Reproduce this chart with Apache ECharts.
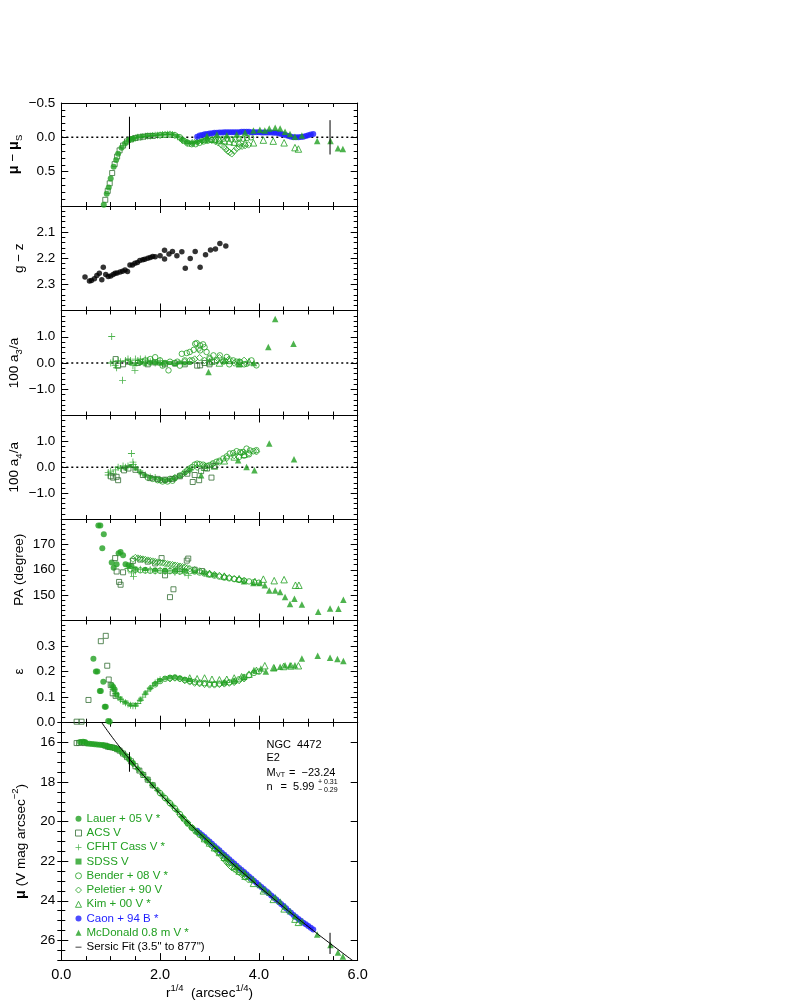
<!DOCTYPE html>
<html><head><meta charset="utf-8">
<script src="https://cdn.jsdelivr.net/npm/echarts/dist/echarts.min.js"></script>
<style>html,body{margin:0;padding:0;background:#fff}#c{width:795px;height:1004px}</style>
</head><body><div id="c"></div>
<script>
// ---------------- DATA ----------------
const xTickLabels = [0, 2, 4, 6];
// Panel 1 : mu - mu_S residuals
const lauerRes = [[0.86,0.98],[0.92,0.82],[0.96,0.73],[1.00,0.60],[1.06,0.43],[1.11,0.33],[1.15,0.24],[1.22,0.15],[1.29,0.09],[1.37,0.04],[1.45,0.02]];
const acsRes = [[0.89,0.91],[0.94,0.78],[0.98,0.67],[1.03,0.52],[1.08,0.39],[1.13,0.28],[1.18,0.19],[1.25,0.12],[1.33,0.06],[1.41,0.03],[1.5,0.01],[1.58,0.0],[1.66,-0.01],[1.75,-0.02],[1.85,-0.02]];
const cfhtRes = [[1.35,0.05],[1.4,0.03],[1.45,0.02],[1.5,0.01],[1.55,0.0],[1.6,-0.005],[1.65,-0.01],[1.7,-0.015],[1.75,-0.02],[1.8,-0.02],[1.85,-0.025],[1.9,-0.03],[1.95,-0.03],[2.0,-0.035],[2.05,-0.04],[2.1,-0.04],[2.15,-0.045],[2.2,-0.045],[2.25,-0.04],[2.3,-0.03],[2.35,-0.01],[2.4,0.01],[2.45,0.04],[2.5,0.06],[2.55,0.08],[2.6,0.09],[2.65,0.085],[2.7,0.075],[2.75,0.06],[2.8,0.05]];
const sdssRes = [[1.45,0.01],[1.55,-0.01],[1.65,-0.02],[1.75,-0.03],[1.85,-0.035],[1.95,-0.04],[2.05,-0.045],[2.15,-0.05],[2.25,-0.045],[2.35,-0.02],[2.45,0.03],[2.55,0.07],[2.65,0.08],[2.75,0.07],[2.85,0.05],[2.95,0.03]];
const benderRes = [[2.0,-0.03],[2.1,-0.035],[2.2,-0.04],[2.3,-0.03],[2.4,0.0],[2.48,0.05],[2.56,0.09],[2.64,0.1],[2.72,0.1],[2.8,0.08],[2.88,0.06],[2.96,0.05],[3.04,0.04],[3.12,0.03],[3.2,0.03],[3.28,0.02],[3.36,0.02],[3.44,0.03],[3.52,0.03],[3.6,0.02],[3.68,0.02],[3.76,0.01],[3.84,0.0]];
const peletierRes = [[2.45,0.04],[2.55,0.07],[2.65,0.08],[2.75,0.07],[2.85,0.05],[2.95,0.03],[3.05,0.04],[3.12,0.06],[3.18,0.08],[3.24,0.11],[3.29,0.14],[3.33,0.17],[3.37,0.2],[3.41,0.22],[3.45,0.24],[3.5,0.2],[3.55,0.16],[3.6,0.14],[3.66,0.13],[3.72,0.12],[3.79,0.11]];
const kimRes = [[2.9,0.03],[3.0,0.02],[3.1,0.03],[3.2,0.04],[3.3,0.05],[3.4,0.06],[3.5,0.07],[3.6,0.08],[3.72,0.08],[3.89,0.08],[4.09,0.04],[4.29,0.055],[4.51,0.08],[4.73,0.15],[4.80,0.17]];
const caonRes = [[2.75,-0.01],[2.8,-0.025],[2.85,-0.035],[2.9,-0.045],[2.95,-0.05],[3.0,-0.055],[3.05,-0.06],[3.1,-0.065],[3.15,-0.065],[3.2,-0.07],[3.25,-0.07],[3.3,-0.075],[3.35,-0.075],[3.4,-0.075],[3.45,-0.075],[3.5,-0.075],[3.55,-0.075],[3.6,-0.075],[3.65,-0.08],[3.7,-0.08],[3.75,-0.08],[3.8,-0.08],[3.85,-0.075],[3.9,-0.075],[3.95,-0.075],[4.0,-0.075],[4.05,-0.07],[4.1,-0.07],[4.15,-0.07],[4.2,-0.07],[4.25,-0.07],[4.3,-0.065],[4.35,-0.065],[4.4,-0.06],[4.45,-0.05],[4.5,-0.04],[4.55,-0.03],[4.6,-0.02],[4.65,-0.01],[4.7,0.0],[4.75,0.0],[4.8,0.0],[4.85,-0.005],[4.9,-0.01],[4.95,-0.02],[5.0,-0.03],[5.05,-0.04],[5.1,-0.05]];
const mcdRes = [[2.95,-0.02],[3.15,-0.04],[3.35,-0.03],[3.55,-0.04],[3.72,-0.07],[3.89,-0.1],[4.02,-0.11],[4.12,-0.1],[4.21,-0.13],[4.33,-0.14],[4.43,-0.13],[4.53,-0.08],[4.63,-0.05],[4.73,-0.01],[4.87,-0.025],[5.18,0.055],[5.45,0.055],[5.6,0.16],[5.7,0.17]];
// Panel 2 : g - z colour
const gzData = [[0.48,2.272],[0.57,2.287],[0.61,2.285],[0.67,2.278],[0.72,2.266],[0.77,2.257],[0.82,2.282],[0.85,2.234],[0.90,2.262],[0.95,2.270],[1.00,2.268],[1.05,2.262],[1.09,2.257],[1.13,2.256],[1.19,2.253],[1.24,2.250],[1.29,2.245],[1.34,2.251],[1.39,2.226],[1.44,2.226],[1.49,2.219],[1.54,2.216],[1.59,2.209],[1.65,2.206],[1.69,2.204],[1.75,2.200],[1.80,2.197],[1.85,2.193],[1.90,2.194],[2.00,2.190],[2.09,2.169],[2.09,2.203],[2.18,2.184],[2.25,2.174],[2.34,2.190],[2.44,2.175],[2.51,2.238],[2.61,2.201],[2.71,2.174],[2.81,2.234],[2.92,2.187],[3.02,2.168],[3.12,2.165],[3.21,2.144],[3.33,2.153]];
// Panel 3 : 100 a3/a
const cfhtA3 = [[1.02,1.01],[1.0,0.0],[1.09,-0.09],[1.12,-0.18],[1.24,-0.66],[1.49,-0.28],[1.05,0.05],[1.15,0.1],[1.2,0.05],[1.3,0.1],[1.35,0.15],[1.4,0.1],[1.45,-0.1],[1.5,0.15],[1.55,0.1],[1.6,0.15],[1.65,0.05],[1.7,0.15],[1.75,0.1],[1.8,0.05],[1.85,0.1],[1.9,0.0],[1.95,0.05],[2.0,0.1],[2.05,-0.05]];
const acsA3 = [[1.1,0.15],[1.15,-0.1],[1.25,-0.05],[1.35,0.05],[1.55,0.0],[1.75,-0.05],[1.9,0.02],[2.1,-0.05],[2.3,-0.02],[2.5,-0.05],[2.75,-0.1],[2.81,-0.09],[2.9,0.0],[3.0,-0.05],[3.05,0.05]];
const sdssA3 = [[1.4,0.0],[1.5,-0.05],[1.6,0.0],[1.7,-0.05],[1.8,-0.02],[1.9,0.0],[2.0,-0.03],[2.1,0.02],[2.2,0.0],[2.3,-0.05],[2.4,0.02],[2.5,-0.02],[2.6,0.0]];
const benderA3 = [[1.6,0.05],[1.7,0.1],[1.8,0.15],[1.9,0.22],[2.0,0.1],[2.05,-0.1],[2.1,0.0],[2.17,-0.28],[2.2,0.05],[2.3,0.0],[2.35,0.05],[2.4,-0.1],[2.44,0.35],[2.5,0.1],[2.54,0.38],[2.6,0.42],[2.65,0.1],[2.68,0.5],[2.71,0.73],[2.74,0.76],[2.78,0.55],[2.81,0.67],[2.81,0.48],[2.87,0.71],[2.9,0.6],[2.94,0.42],[3.0,0.2],[3.08,0.29],[3.15,0.1],[3.21,0.29],[3.28,0.05],[3.35,0.23],[3.4,-0.05],[3.48,0.1],[3.55,0.05],[3.62,0.04],[3.7,-0.05],[3.75,-0.03],[3.85,0.1],[3.95,-0.09]];
const peletierA3 = [[2.5,0.05],[2.6,0.1],[2.7,0.15],[2.8,0.2],[2.9,0.1],[3.0,0.15],[3.1,0.05],[3.2,0.2],[3.3,0.1],[3.4,0.15],[3.5,0.0],[3.6,0.05],[3.7,0.1]];
const kimA3 = [[3.0,0.05],[3.2,0.0],[3.4,0.1],[3.6,0.0],[3.8,0.05]];
const mcdA3 = [[2.98,-0.34],[3.3,0.1],[3.6,-0.05],[3.9,0.0],[4.19,0.61],[4.33,1.68],[4.70,0.73]];
// Panel 4 : 100 a4/a
const cfhtA4 = [[0.95,-0.3],[0.95,-0.2],[1.0,-0.15],[1.05,-0.25],[1.1,-0.1],[1.15,0.0],[1.2,-0.05],[1.25,0.05],[1.3,0.0],[1.35,0.05],[1.42,0.53],[1.45,0.2],[1.46,0.1],[1.5,0.0],[1.55,-0.1],[1.6,-0.2],[1.65,-0.25],[1.7,-0.3],[1.8,-0.38],[1.9,-0.4]];
const acsA4 = [[1.0,-0.35],[1.05,-0.4],[1.12,-0.37],[1.15,-0.5],[1.27,-0.12],[1.36,-0.05],[1.5,-0.1],[1.65,-0.3],[1.8,-0.42],[1.95,-0.45],[2.1,-0.48],[2.25,-0.45],[2.4,-0.35],[2.55,-0.25],[2.66,-0.57],[2.7,-0.3],[2.79,-0.5],[2.83,-0.15],[2.95,-0.05],[3.04,-0.4],[3.1,0.05]];
const sdssA4 = [[1.3,-0.05],[1.4,0.05],[1.5,-0.05],[1.6,-0.2],[1.7,-0.32],[1.8,-0.4],[1.9,-0.43],[2.0,-0.46],[2.1,-0.5],[2.2,-0.48],[2.3,-0.43],[2.4,-0.35],[2.5,-0.22],[2.6,-0.1]];
const benderA4 = [[1.75,-0.4],[1.85,-0.45],[1.95,-0.5],[2.0,-0.5],[2.05,-0.55],[2.1,-0.5],[2.15,-0.55],[2.2,-0.45],[2.25,-0.52],[2.3,-0.42],[2.4,-0.32],[2.5,-0.2],[2.55,-0.12],[2.6,-0.05],[2.65,0.01],[2.7,0.1],[2.75,0.14],[2.8,0.12],[2.87,0.1],[2.95,0.05],[3.0,0.08],[3.07,0.15],[3.14,0.21],[3.2,0.25],[3.28,0.34],[3.35,0.42],[3.41,0.53],[3.48,0.55],[3.55,0.62],[3.6,0.4],[3.62,0.58],[3.68,0.59],[3.7,0.45],[3.75,0.72],[3.8,0.5],[3.82,0.65],[3.89,0.62],[3.95,0.66]];
const peletierA4 = [[2.3,-0.4],[2.45,-0.28],[2.6,-0.12],[2.75,0.0],[2.9,0.05],[3.05,0.1],[3.2,0.2],[3.35,0.35],[3.5,0.45],[3.65,0.55],[3.8,0.55],[3.95,0.6]];
const kimA4 = [[2.9,0.0],[3.1,0.05],[3.3,0.25],[3.5,0.4],[3.7,0.5]];
const mcdA4 = [[2.83,-0.31],[3.58,0.27],[3.75,0.01],[3.91,-0.12],[4.21,0.92],[4.71,0.31]];
// Panel 5 : position angle
const lauerPA = [[0.75,177.4],[0.79,177.4],[0.86,174.0],[0.83,168.5],[1.02,162.9],[1.06,160.8],[1.12,162.2],[1.16,166.5],[1.2,167.0],[1.25,165.7],[1.3,162.2],[1.36,161.8],[1.42,161.5]];
const acsPA = [[1.09,164.6],[1.12,159.3],[1.17,155.2],[1.2,154.1],[1.25,159.0],[1.45,163.5],[1.6,164.0],[1.75,163.2],[1.9,162.5],[2.03,164.6],[2.1,157.8],[2.2,149.2],[2.27,152.3],[2.4,160.5],[2.54,163.6],[2.57,164.4],[2.7,160.0],[2.85,159.5]];
const cfhtPA = [[1.35,160.5],[1.42,158.8],[1.46,157.4],[1.5,159.5],[1.6,160.2],[1.7,159.8],[1.8,160.0],[1.9,159.5],[2.0,159.8],[2.1,159.3],[2.2,159.6],[2.3,159.0],[2.4,159.3],[2.5,158.8],[2.57,157.8]];
const sdssPA = [[1.5,160.5],[1.7,160.3],[1.9,160.0],[2.1,160.0],[2.3,159.8],[2.5,159.6],[2.7,159.2],[2.9,158.6],[3.1,158.0]];
const benderPA = [[1.4,160.3],[1.5,160.0],[1.6,159.8],[1.7,159.7],[1.8,159.6],[1.9,159.6],[2.0,159.6],[2.1,159.5],[2.2,159.5],[2.3,159.4],[2.4,159.3],[2.5,159.3],[2.6,159.4],[2.7,159.3],[2.8,158.9],[2.9,158.5],[3.0,158.1],[3.1,157.7],[3.2,157.3],[3.3,156.9],[3.4,156.6],[3.5,156.3],[3.6,156.0],[3.7,155.7],[3.8,155.4],[3.9,155.1],[4.0,154.9]];
const peletierPA = [[1.45,164.2],[1.5,164.8],[1.55,164.6],[1.6,164.4],[1.65,164.2],[1.7,164.0],[1.75,163.8],[1.8,163.6],[1.85,163.4],[1.9,163.2],[1.95,163.0],[2.0,162.9],[2.05,162.7],[2.1,162.5],[2.15,162.3],[2.2,162.1],[2.25,162.0],[2.3,161.8],[2.35,161.6],[2.4,161.4],[2.45,161.2],[2.5,161.0],[2.55,160.7],[2.6,160.4],[2.7,160.0],[2.8,159.5],[2.9,159.0],[3.0,158.5],[3.1,158.1],[3.2,157.7],[3.3,157.3],[3.4,156.9],[3.5,156.5],[3.6,156.1],[3.7,155.7]];
const kimPA = [[3.0,158.5],[3.3,157.5],[3.6,156.5],[3.92,155.4],[4.09,156.3],[4.31,155.7],[4.51,156.1],[4.74,153.9],[4.81,153.9]];
const mcdPA = [[3.7,155.5],[3.89,154.8],[4.02,154.8],[4.12,153.9],[4.21,151.8],[4.33,151.8],[4.43,151.2],[4.53,149.3],[4.63,146.5],[4.72,148.6],[4.87,146.3],[5.2,143.4],[5.44,144.7],[5.61,144.6],[5.71,148.2]];
// Panel 6 : ellipticity
const lauerE = [[0.65,0.25],[0.70,0.2],[0.73,0.2],[0.78,0.124],[0.80,0.124],[0.85,0.16],[0.88,0.062],[0.90,0.062],[0.95,0.007],[0.98,0.004],[1.02,0.147],[1.05,0.14],[1.08,0.13],[1.12,0.11]];
const acsE = [[0.31,0.004],[0.41,0.004],[0.55,0.089],[0.80,0.319],[0.90,0.34],[0.93,0.223],[0.96,0.169],[1.0,0.147],[1.04,0.115],[1.1,0.105]];
const cfhtE = [[1.05,0.13],[1.1,0.115],[1.15,0.1],[1.2,0.09],[1.25,0.083],[1.3,0.078],[1.35,0.073],[1.4,0.068],[1.45,0.066],[1.5,0.066],[1.55,0.075],[1.6,0.088],[1.65,0.1],[1.7,0.112],[1.75,0.124],[1.8,0.135],[1.85,0.145],[1.9,0.155],[1.95,0.162],[2.0,0.168]];
const sdssE = [[1.2,0.095],[1.3,0.08],[1.4,0.07],[1.5,0.07],[1.6,0.09],[1.7,0.115],[1.8,0.135],[1.9,0.152],[2.0,0.166],[2.1,0.174],[2.2,0.178],[2.3,0.178],[2.4,0.175],[2.5,0.17],[2.6,0.167]];
const benderE = [[1.9,0.15],[2.0,0.163],[2.1,0.172],[2.2,0.176],[2.3,0.177],[2.4,0.173],[2.5,0.168],[2.6,0.164],[2.7,0.16],[2.8,0.157],[2.9,0.155],[3.0,0.153],[3.1,0.152],[3.2,0.153],[3.3,0.155],[3.4,0.158],[3.5,0.162],[3.6,0.17],[3.7,0.178],[3.8,0.186],[3.9,0.195],[4.0,0.2]];
const peletierE = [[2.2,0.172],[2.3,0.175],[2.4,0.172],[2.5,0.165],[2.6,0.16],[2.7,0.155],[2.8,0.153],[2.9,0.15],[3.0,0.148],[3.1,0.148],[3.2,0.15],[3.3,0.152],[3.4,0.155],[3.5,0.158],[3.6,0.165],[3.7,0.172]];
const kimE = [[2.6,0.175],[2.75,0.172],[2.9,0.175],[3.05,0.17],[3.2,0.168],[3.35,0.17],[3.5,0.175],[3.65,0.18],[3.8,0.19],[3.95,0.205],[4.12,0.223],[4.3,0.215],[4.5,0.22],[4.65,0.222],[4.8,0.223]];
const mcdE = [[3.3,0.16],[3.5,0.165],[3.7,0.18],[3.9,0.206],[4.04,0.212],[4.14,0.2],[4.31,0.215],[4.43,0.219],[4.53,0.225],[4.63,0.225],[4.73,0.225],[4.87,0.251],[5.19,0.262],[5.44,0.254],[5.59,0.249],[5.71,0.241]];
// Panel 7 : surface brightness profile
const lauerMu = [[0.38,15.97],[0.44,15.96],[0.48,15.97],[0.52,16.05],[0.57,16.07],[0.62,16.08],[0.67,16.09],[0.72,16.10],[0.77,16.12],[0.82,16.13],[0.86,16.14],[0.92,16.18],[0.96,16.22],[1.00,16.23],[1.06,16.26],[1.11,16.32],[1.15,16.36],[1.22,16.49],[1.29,16.65],[1.37,16.84],[1.45,17.04]];
const acsMu = [[0.31,16.03],[0.36,16.02],[0.42,16.0],[0.47,16.03],[0.89,16.16],[0.94,16.21],[0.98,16.23],[1.03,16.25],[1.08,16.28],[1.13,16.34],[1.18,16.41],[1.25,16.56],[1.33,16.74],[1.41,16.95],[1.5,17.2],[1.58,17.42],[1.66,17.64],[1.75,17.88],[1.85,18.16]];
const cfhtMu = [[1.35,16.79],[1.4,16.93],[1.45,17.06],[1.5,17.2],[1.55,17.34],[1.6,17.48],[1.65,17.61],[1.7,17.75],[1.75,17.88],[1.8,18.02],[1.85,18.16],[1.9,18.29],[1.95,18.42],[2.0,18.55],[2.05,18.68],[2.1,18.81],[2.15,18.93],[2.2,19.06],[2.25,19.2],[2.3,19.33],[2.35,19.48],[2.4,19.63],[2.45,19.78],[2.5,19.93],[2.55,20.07],[2.6,20.2],[2.65,20.32],[2.7,20.43],[2.75,20.53],[2.8,20.64]];
const sdssMu = [[1.45,17.05],[1.55,17.33],[1.65,17.6],[1.75,17.87],[1.85,18.15],[1.95,18.41],[2.05,18.67],[2.15,18.93],[2.25,19.19],[2.35,19.47],[2.45,19.77],[2.55,20.06],[2.65,20.31],[2.75,20.54],[2.85,20.76],[2.95,20.98]];
const benderMu = [[2.0,18.56],[2.1,18.81],[2.2,19.07],[2.3,19.33],[2.4,19.62],[2.48,19.87],[2.56,20.1],[2.64,20.31],[2.72,20.5],[2.8,20.67],[2.88,20.84],[2.96,21.02],[3.04,21.2],[3.12,21.37],[3.2,21.55],[3.28,21.72],[3.36,21.9],[3.44,22.09],[3.52,22.27],[3.6,22.44],[3.68,22.61],[3.76,22.77],[3.84,22.93]];
const peletierMu = [[2.45,19.78],[2.55,20.06],[2.65,20.31],[2.75,20.54],[2.85,20.76],[2.95,20.98],[3.05,21.22],[3.12,21.4],[3.18,21.56],[3.24,21.72],[3.29,21.87],[3.33,21.99],[3.37,22.11],[3.41,22.22],[3.45,22.32],[3.5,22.4],[3.55,22.47],[3.6,22.56],[3.66,22.68],[3.72,22.8],[3.79,22.94]];
const kimMu = [[2.9,20.86],[3.0,21.08],[3.1,21.32],[3.2,21.56],[3.3,21.8],[3.4,22.03],[3.5,22.27],[3.6,22.5],[3.72,22.76],[3.89,23.12],[4.09,23.5],[4.29,23.93],[4.51,24.41],[4.73,24.93],[4.80,25.09]];
const caonMu = [[2.75,20.46],[2.8,20.57],[2.85,20.68],[2.9,20.78],[2.95,20.9],[3.0,21.01],[3.05,21.12],[3.1,21.23],[3.15,21.34],[3.2,21.45],[3.25,21.57],[3.3,21.67],[3.35,21.79],[3.4,21.9],[3.45,22.01],[3.5,22.12],[3.55,22.23],[3.6,22.34],[3.65,22.44],[3.7,22.55],[3.75,22.66],[3.8,22.77],[3.85,22.88],[3.9,22.99],[3.95,23.09],[4.0,23.2],[4.05,23.31],[4.1,23.41],[4.15,23.52],[4.2,23.62],[4.25,23.73],[4.3,23.83],[4.35,23.94],[4.4,24.05],[4.45,24.16],[4.5,24.27],[4.55,24.38],[4.6,24.5],[4.65,24.61],[4.7,24.72],[4.75,24.82],[4.8,24.92],[4.85,25.01],[4.9,25.11],[4.95,25.19],[5.0,25.28],[5.05,25.37],[5.1,25.45]];
const mcdMu = [[2.95,20.93],[3.15,21.37],[3.35,21.83],[3.55,22.27],[3.72,22.61],[3.89,22.94],[4.02,23.21],[4.12,23.43],[4.21,23.58],[4.33,23.82],[4.43,24.04],[4.53,24.29],[4.63,24.53],[4.73,24.77],[4.87,25.03],[5.18,25.71],[5.45,26.24],[5.6,26.62],[5.7,26.82]];
// Sersic fit line
const fitMu = [[0.82,15.0],[1.0,15.63],[1.2,16.28],[1.4,16.9],[1.6,17.48],[1.8,18.04],[2.0,18.59],[2.2,19.11],[2.4,19.62],[2.6,20.11],[2.8,20.59],[3.0,21.06],[3.2,21.52],[3.4,21.97],[3.6,22.42],[3.8,22.85],[4.0,23.28],[4.2,23.69],[4.4,24.11],[4.6,24.52],[4.8,24.92],[5.0,25.31],[5.2,25.7],[5.4,26.08],[5.6,26.46],[5.8,26.84],[5.9,27.02]];
// fit-range markers (3.5" and 877")
const fitRangeX = [1.38, 5.44];
const resMarkY = [[-0.30, 0.17], [-0.25, 0.25]];
const muMarkY = [[16.49, 17.48], [25.62, 26.69]];

// ---------------- STYLE / LAYOUT ----------------
const F = '"Liberation Sans", Arial, Helvetica, sans-serif';
const G = '#22a022', GD = '#336e33', BL = '#1f1fff';
const PLUS = 'path://M-0.12,-1L0.12,-1L0.12,-0.12L1,-0.12L1,0.12L0.12,0.12L0.12,1L-0.12,1L-0.12,0.12L-1,0.12L-1,-0.12L-0.12,-0.12Z';
const hollow = c => ({color:'rgba(0,0,0,0)', borderColor:c, borderWidth:1});
const S = {
  lauer:{name:'Lauer + 05 V *', symbol:'circle', size:6, item:{color:G}},
  acs:{name:'ACS V', symbol:'rect', size:5, item:hollow(GD)},
  cfht:{name:'CFHT Cass V *', symbol:PLUS, size:7, item:{color:G}},
  sdss:{name:'SDSS V', symbol:'rect', size:4, item:{color:G}},
  bender:{name:'Bender + 08 V *', symbol:'circle', size:5.5, item:hollow(G)},
  peletier:{name:'Peletier + 90 V', symbol:'diamond', size:6.5, item:hollow(G)},
  kim:{name:'Kim + 00 V *', symbol:'triangle', size:6.5, item:hollow(G)},
  caon:{name:'Caon + 94 B *', symbol:'circle', size:6, item:{color:BL}},
  mcd:{name:'McDonald 0.8 m V *', symbol:'triangle', size:6.5, item:{color:G}}
};
const bounds = [103, 206, 310.5, 415.5, 519, 620.5, 722.7, 966.7];
const LEFT = 61.3, WIDTH = 296.4;
const P = [
  {min:-0.5,max:1.0,inv:true,iv:0.5,ms:5,labels:[-0.5,0,0.5],d:1,gap:27.5,name:'{b|μ} − {b|μ}{sub|S}'},
  {min:2.0,max:2.4,inv:true,iv:0.1,ms:5,labels:[2.1,2.2,2.3],d:1,gap:32,name:'g − z'},
  {min:-2,max:2,iv:1,ms:5,labels:[-1,0,1],d:1,gap:28,name:'100 a{sub|3}/a'},
  {min:-2,max:2,iv:1,ms:5,labels:[-1,0,1],d:1,gap:28,name:'100 a{sub|4}/a'},
  {min:140,max:180,iv:10,ms:5,labels:[150,160,170],d:0,gap:30,name:'PA (degree)'},
  {min:0,max:0.4,iv:0.1,ms:5,labels:[0,0.1,0.2,0.3],d:1,gap:32,name:'ε'},
  {min:15,max:27,inv:true,iv:0.5,ms:0,custom:[16,18,20,22,24,26],labels:[16,18,20,22,24,26],d:0,gap:29,name:'{b|μ} (V mag arcsec{sup|−2})'}
];
const fmt = (v,d) => (v < -1e-9 ? '−' : '') + Math.abs(v).toFixed(d);
const rich = {
  b:{fontWeight:'bold', fontSize:14.5, fontFamily:F, lineHeight:22},
  sub:{fontSize:9.5, fontFamily:F, verticalAlign:'bottom', lineHeight:10},
  sup:{fontSize:9.5, fontFamily:F, verticalAlign:'top', lineHeight:10}
};
const grids = [], xAxes = [], yAxes = [];
P.forEach((p, i) => {
  grids.push({left:LEFT, width:WIDTH, top:bounds[i], height:bounds[i+1]-bounds[i]});
  ['bottom','top'].forEach((pos, k) => {
    xAxes.push({gridIndex:i, type:'value', position:pos, min:0, max:6, interval:2,
      axisLine:{onZero:false, lineStyle:{color:'#000', width:1}},
      axisTick:{inside:true, length:7, lineStyle:{color:'#000'}},
      minorTick:{show:true, splitNumber:4, length:4, lineStyle:{color:'#000'}},
      splitLine:{show:false},
      axisLabel:{show:(i===6 && k===0), color:'#000', fontFamily:F, fontSize:14.5, margin:7,
        formatter:v => xTickLabels.some(t => Math.abs(t-v) < 1e-9) ? v.toFixed(1) : ''},
      name:(i===6 && k===0) ? 'r{sup|1/4}  (arcsec{sup|1/4})' : '', nameLocation:'middle', nameGap:22,
      nameTextStyle:{color:'#000', fontFamily:F, fontSize:13.5, lineHeight:20, rich:rich}});
  });
  ['left','right'].forEach((pos, k) => {
    const ax = {gridIndex:i, type:'value', position:pos, min:p.min, max:p.max, inverse:!!p.inv, interval:p.iv,
      axisLine:{onZero:false, lineStyle:{color:'#000', width:1}},
      axisTick:{inside:true, length:7, lineStyle:{color:'#000'}},
      minorTick:{show:p.ms>0, splitNumber:p.ms||1, length:4, lineStyle:{color:'#000'}},
      splitLine:{show:false},
      axisLabel:{show:k===0, color:'#000', fontFamily:F, fontSize:13.5, margin:6,
        formatter:v => p.labels.some(t => Math.abs(t-v) < 1e-9) ? fmt(v, p.d) : ''},
      name:k===0 ? p.name : '', nameLocation:'middle', nameRotate:90, nameGap:p.gap,
      nameTextStyle:{color:'#000', fontFamily:F, fontSize:13.5, lineHeight:20, rich:rich}};
    if (p.custom) { ax.axisTick.customValues = p.custom; ax.axisLabel.customValues = p.custom; }
    yAxes.push(ax);
  });
});
// extra minor-tick axes for the profile panel (every 0.5 mag)
['left','right'].forEach(pos => {
  yAxes.push({gridIndex:6, type:'value', position:pos, min:15, max:27, inverse:true, interval:0.5,
    axisLine:{show:false}, axisTick:{inside:true, length:4, lineStyle:{color:'#000'}},
    axisLabel:{show:false}, splitLine:{show:false}});
});

const series = [];
const yIdx = i => 2*i;
function zeroLine(i){
  series.push({type:'line', xAxisIndex:2*i, yAxisIndex:yIdx(i), data:[[0,0],[6,0]], symbol:'none', silent:true,
    lineStyle:{color:'#000', width:1.5, type:[2,3]}, z:1});
}
function sc(key, i, data){
  const s = S[key];
  series.push({type:'scatter', name:s.name, xAxisIndex:2*i, yAxisIndex:yIdx(i), data:data,
    symbol:s.symbol, symbolSize:s.size, itemStyle:s.item, silent:true, z:2});
}
function seg(i, x, ys){
  series.push({type:'line', xAxisIndex:2*i, yAxisIndex:yIdx(i), data:[[x,ys[0]],[x,ys[1]]], symbol:'none', silent:true,
    lineStyle:{color:'#000', width:1}, z:4});
}
// panel 1
zeroLine(0);
sc('acs',0,acsRes); sc('lauer',0,lauerRes); sc('cfht',0,cfhtRes); sc('sdss',0,sdssRes);
sc('bender',0,benderRes); sc('peletier',0,peletierRes); sc('kim',0,kimRes); sc('caon',0,caonRes); sc('mcd',0,mcdRes);
fitRangeX.forEach((x,k) => seg(0, x, resMarkY[k]));
// panel 2
series.push({type:'scatter', name:'g-z', xAxisIndex:2, yAxisIndex:2, data:gzData, symbol:'circle', symbolSize:5.5,
  itemStyle:{color:'#000'}, silent:true});
// panel 3
zeroLine(2);
sc('acs',2,acsA3); sc('cfht',2,cfhtA3); sc('sdss',2,sdssA3); sc('bender',2,benderA3);
sc('peletier',2,peletierA3); sc('kim',2,kimA3); sc('mcd',2,mcdA3);
// panel 4
zeroLine(3);
sc('cfht',3,cfhtA4); sc('sdss',3,sdssA4); sc('bender',3,benderA4); sc('peletier',3,peletierA4);
sc('kim',3,kimA4); sc('acs',3,acsA4); sc('mcd',3,mcdA4);
// panel 5
sc('lauer',4,lauerPA); sc('acs',4,acsPA); sc('cfht',4,cfhtPA); sc('sdss',4,sdssPA); sc('bender',4,benderPA);
sc('peletier',4,peletierPA); sc('kim',4,kimPA); sc('mcd',4,mcdPA);
// panel 6
sc('acs',5,acsE); sc('lauer',5,lauerE); sc('cfht',5,cfhtE); sc('sdss',5,sdssE); sc('bender',5,benderE);
sc('peletier',5,peletierE); sc('kim',5,kimE); sc('mcd',5,mcdE);
// panel 7
sc('caon',6,caonMu); sc('acs',6,acsMu); sc('lauer',6,lauerMu); sc('cfht',6,cfhtMu); sc('sdss',6,sdssMu);
sc('bender',6,benderMu); sc('peletier',6,peletierMu); sc('kim',6,kimMu); sc('mcd',6,mcdMu);
series.push({type:'line', name:'Sersic Fit (3.5" to 877")', xAxisIndex:12, yAxisIndex:12, data:fitMu, symbol:'none', smooth:true,
  silent:true, lineStyle:{color:'#000', width:1}, itemStyle:{color:'#000'}, z:3});
fitRangeX.forEach((x,k) => seg(6, x, muMarkY[k]));

const DASH = 'path://M0,44L100,44L100,56L0,56Z M0,0L0.01,0L0,0.01Z M100,100L99.99,100L100,99.99Z';
const legendNames = Object.keys(S).map(k => ({name:S[k].name, textStyle:{color: k==='caon' ? BL : G}}));
legendNames.push({name:'Sersic Fit (3.5" to 877")', icon:DASH, textStyle:{color:'#000'}});

const option = {
  animation:false, backgroundColor:'#fff',
  grid:grids, xAxis:xAxes, yAxis:yAxes, series:series,
  legend:{orient:'vertical', left:75, top:812.8, padding:0, itemWidth:6, itemHeight:6, itemGap:2.25, selectedMode:false,
    itemStyle:{borderWidth:1},
    textStyle:{fontFamily:F, fontSize:11.5, lineHeight:12}, data:legendNames},
  graphic:[
    {type:'text', left:266.5, top:739, style:{text:'NGC  4472', font:'11px '+F, fill:'#000'}},
    {type:'text', left:266.5, top:752.5, style:{text:'E2', font:'11px '+F, fill:'#000'}},
    {type:'text', left:266.5, top:767, style:{text:'M', font:'11px '+F, fill:'#000'}},
    {type:'text', left:276, top:772, style:{text:'VT', font:'7px '+F, fill:'#000'}},
    {type:'text', left:289, top:767, style:{text:'=  −23.24', font:'11px '+F, fill:'#000'}},
    {type:'text', left:266.5, top:781, style:{text:'n', font:'11px '+F, fill:'#000'}},
    {type:'text', left:280.5, top:781, style:{text:'=  5.99', font:'11px '+F, fill:'#000'}},
    {type:'text', left:318, top:779, style:{text:'+ 0.31', font:'7px '+F, fill:'#000'}},
    {type:'text', left:318, top:786.5, style:{text:'− 0.29', font:'7px '+F, fill:'#000'}}
  ]
};
const chart = echarts.init(document.getElementById('c'), null, {renderer:'canvas'});
chart.setOption(option);
</script></body></html>
